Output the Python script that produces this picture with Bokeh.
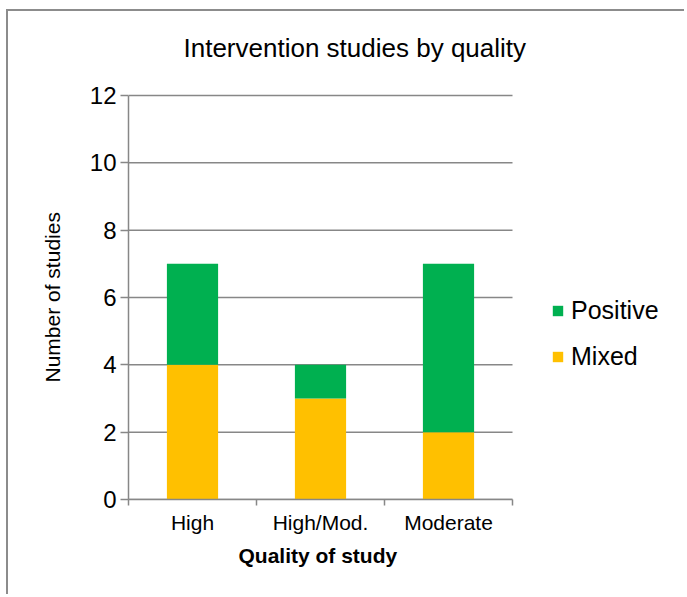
from bokeh.plotting import figure
from bokeh.models import ColumnDataSource, FixedTicker, Legend, LegendItem, Range1d, Title
from bokeh.embed import file_html
from bokeh.resources import INLINE

categories = ["High", "High/Mod.", "Moderate"]
mixed = [4, 3, 2]
positive = [3, 1, 5]
y_ticks = [0, 2, 4, 6, 8, 10, 12]

GRAY = "#878787"
FONT = "Liberation Sans"

n = len(categories)
y_max = y_ticks[-1]
x_pos = [i + 0.5 for i in range(n)]
source = ColumnDataSource(data=dict(x=x_pos, Mixed=mixed, Positive=positive))

# frame spans the plot area plus room on the right for the legend and above for spacing
p = figure(width=678, height=585, output_backend="svg", toolbar_location=None,
           x_range=Range1d(0, n * 558 / 384), y_range=Range1d(0, y_max * 422 / 404),
           min_border_left=120, min_border_right=0, min_border_top=66,
           min_border_bottom=97)
p.styles = {"margin-left": "6px", "margin-top": "9px",
            "border-left": "2px solid #8c8c8c", "border-top": "2px solid #8c8c8c"}

# horizontal gridlines limited to the category area
p.segment(x0=[0] * len(y_ticks), x1=[n] * len(y_ticks), y0=y_ticks, y1=y_ticks,
          line_color=GRAY, line_width=1.5)

renderers = p.vbar_stack(["Mixed", "Positive"], x="x", width=0.4,
                         color=["#FFC000", "#00B050"], source=source,
                         line_color=None)

p.title.text = "Intervention studies by quality"
p.title.align = "left"
p.title.offset = 55
p.title.text_font = FONT
p.title.text_font_size = "26px"
p.title.text_font_style = "normal"
p.title.text_color = "black"
p.title.standoff = 29

p.outline_line_color = None
p.xgrid.grid_line_color = None
p.ygrid.grid_line_color = None

ya = p.yaxis[0]
ya.bounds = (0, y_max)
ya.ticker = FixedTicker(ticks=y_ticks)
ya.axis_line_color = GRAY
ya.axis_line_width = 1.5
ya.major_tick_line_color = GRAY
ya.major_tick_line_width = 1.5
ya.major_tick_out = 8
ya.major_tick_in = 0
ya.minor_tick_line_color = None
ya.major_label_standoff = 4
ya.major_label_text_font = FONT
ya.major_label_text_font_size = "24px"
ya.major_label_text_color = "black"

xa = p.xaxis[0]
xa.bounds = (0, n)
xa.ticker = FixedTicker(ticks=x_pos, minor_ticks=list(range(n + 1)))
xa.major_label_overrides = {x: c for x, c in zip(x_pos, categories)}
xa.axis_line_color = GRAY
xa.axis_line_width = 1.5
xa.major_tick_line_color = None
xa.major_tick_out = 6
xa.major_tick_in = 0
xa.minor_tick_line_color = GRAY
xa.minor_tick_line_width = 1.5
xa.minor_tick_out = 6
xa.minor_tick_in = 0
xa.major_label_standoff = 5
xa.major_label_text_font = FONT
xa.major_label_text_font_size = "21px"
xa.major_label_text_color = "black"

# x-axis title centred under the category area
xtitle = Title(text="Quality of study", align="left", offset=110,
               text_font=FONT, text_font_size="21px", text_font_style="bold",
               text_color="black", standoff=10)
p.add_layout(xtitle, "below")

# y-axis title centred beside the 0-12 span
ytitle = Title(text="Number of studies", align="left", offset=117,
               text_font=FONT, text_font_size="21px", text_font_style="normal",
               text_color="black", standoff=46)
p.add_layout(ytitle, "left")

legend = Legend(items=[LegendItem(label="Positive", renderers=[renderers[1]]),
                       LegendItem(label="Mixed", renderers=[renderers[0]])],
                location=(423, 128), border_line_color=None, background_fill_alpha=0,
                padding=0, margin=0, spacing=17, glyph_width=13, glyph_height=13,
                label_height=24, label_standoff=7, label_text_font=FONT,
                label_text_font_size="25px", label_text_color="black")
p.add_layout(legend, "center")

open("out.html", "w").write(file_html(p, INLINE))
